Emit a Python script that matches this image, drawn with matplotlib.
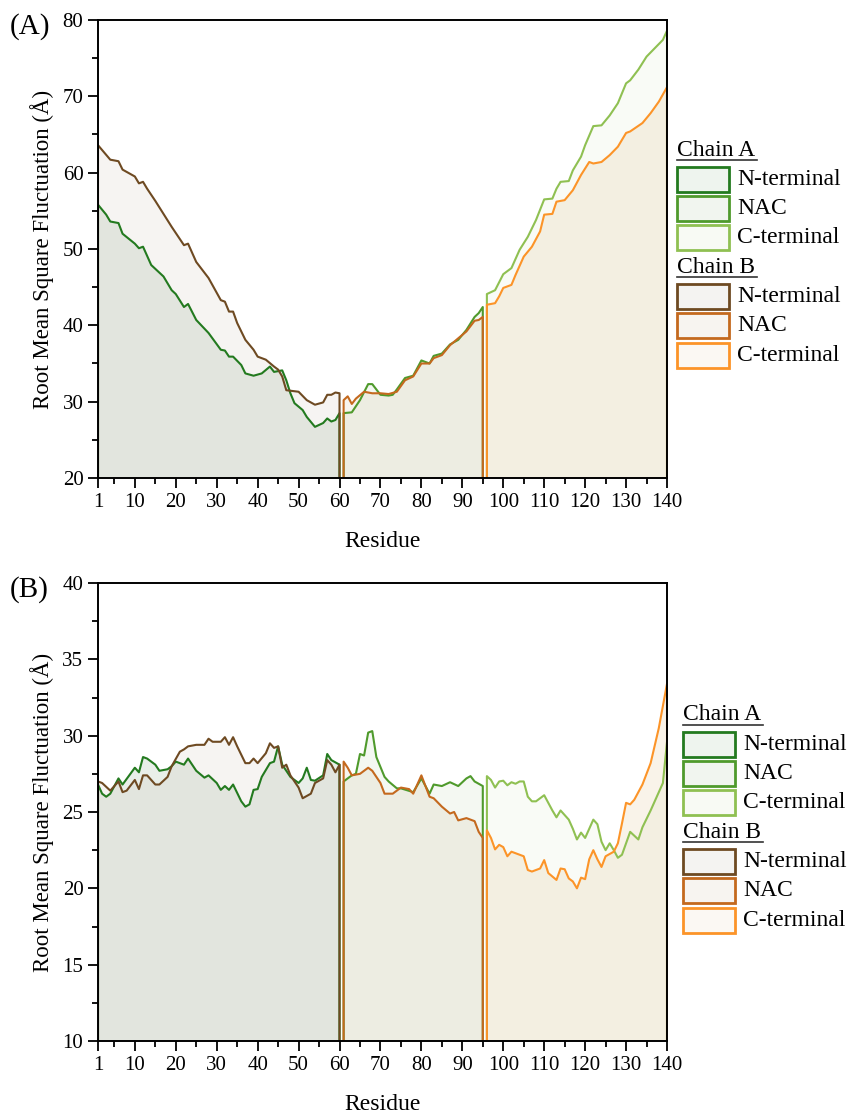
import matplotlib
matplotlib.use("Agg")
import matplotlib.pyplot as plt
from matplotlib.patches import Rectangle
from matplotlib.lines import Line2D
from matplotlib.ticker import MultipleLocator, FixedLocator

plt.rcParams['font.family'] = ['Liberation Serif', 'DejaVu Serif']

# ---- (A) RMSF per residue ----
a_chainA_res = [1, 3, 4, 6, 7, 10, 11, 12, 14, 17, 19, 20, 22, 23, 25, 28, 31, 32, 33, 34, 36, 37, 39, 41, 43, 44, 46,
                47, 48, 49, 51, 52, 54, 56, 57, 58, 59, 60,
                61, 63, 65, 67, 68, 70, 72, 73, 74, 76, 78, 80, 82, 83, 85, 87, 89, 91, 93, 94, 95,
                96, 98, 100, 102, 104, 106, 108, 110, 112, 113, 114, 116, 117, 119, 120, 122, 124, 126, 128, 130,
                131, 133, 135, 137, 139, 140]
a_chainA_val = [55.8, 54.5, 53.6, 53.4, 52.0, 50.7, 50.1, 50.3, 47.9, 46.4, 44.6, 44.1, 42.4, 42.8, 40.7, 39.0, 36.8,
                36.7, 35.9, 35.9, 34.8, 33.7, 33.4, 33.7, 34.6, 33.9, 34.1, 32.8, 31.1, 29.8, 28.9, 28.0, 26.7, 27.2,
                27.8, 27.4, 27.6, 28.5,
                28.5, 28.6, 30.2, 32.3, 32.3, 30.9, 30.8, 30.9, 31.6, 33.1, 33.4, 35.4, 35.0, 36.0, 36.3, 37.5, 38.1,
                39.4, 41.1, 41.6, 42.4,
                44.1, 44.6, 46.7, 47.5, 49.9, 51.6, 53.8, 56.5, 56.6, 57.9, 58.8, 58.9, 60.3, 62.1, 63.6, 66.1, 66.2,
                67.5, 69.1, 71.7, 72.1, 73.5, 75.2, 76.3, 77.4, 78.6]

a_chainB_res = [1, 4, 6, 7, 10, 11, 12, 13, 15, 17, 19, 20, 22, 23, 25, 28, 31, 32, 33, 34, 35, 37, 39, 40, 42, 44, 45,
                46, 47, 50, 52, 54, 56, 57, 58, 59, 60,
                61, 62, 63, 64, 66, 68, 70, 72, 74, 76, 78, 80, 82, 83, 85, 87, 89, 91, 93, 94, 95,
                96, 98, 99, 100, 102, 103, 105, 107, 109, 110, 112, 113, 115, 117, 119, 121, 122, 124, 126, 128, 130,
                131, 134, 136, 138, 140]
a_chainB_val = [63.6, 61.7, 61.5, 60.4, 59.5, 58.6, 58.8, 57.9, 56.3, 54.6, 52.9, 52.1, 50.5, 50.7, 48.3, 46.2, 43.3,
                43.1, 41.8, 41.8, 40.3, 38.1, 36.8, 35.9, 35.5, 34.6, 34.2, 33.3, 31.5, 31.3, 30.2, 29.6, 29.9, 30.9,
                30.9, 31.2, 31.1,
                30.2, 30.7, 29.7, 30.4, 31.3, 31.1, 31.1, 31.0, 31.3, 32.8, 33.3, 35.0, 35.0, 35.7, 36.1, 37.4, 38.3,
                39.2, 40.6, 40.7, 41.1,
                42.7, 42.9, 43.8, 44.9, 45.3, 46.6, 49.0, 50.3, 52.3, 54.5, 54.6, 56.2, 56.4, 57.7, 59.7, 61.4, 61.2,
                61.4, 62.3, 63.4, 65.2, 65.4, 66.5, 67.8, 69.3, 71.2]

# ---- (B) RMSF per residue ----
b_chainA_res = [1, 2, 3, 4, 6, 7, 10, 11, 12, 13, 15, 16, 18, 19, 20, 22, 23, 25, 27, 28, 30, 31, 32, 33, 34, 36, 37,
                38, 39, 40, 41, 43, 44, 45, 46, 48, 50, 51, 52, 53, 54, 56, 57, 58, 60,
                61, 63, 64, 65, 66, 67, 68, 69, 71, 72, 74, 75, 78, 80, 82, 83, 85, 87, 89, 91, 92, 93, 95,
                96, 97, 98, 99, 100, 101, 102, 103, 104, 105, 106, 107, 108, 110, 112, 113, 114, 116, 117, 118, 119,
                120, 122, 123, 124, 125, 126, 127, 128, 129, 131, 133, 134, 136, 139, 140]
b_chainA_val = [26.8, 26.2, 26.0, 26.2, 27.2, 26.8, 27.9, 27.6, 28.6, 28.5, 28.1, 27.7, 27.8, 28.0, 28.3, 28.1, 28.5,
                27.7, 27.25, 27.4, 26.9, 26.45, 26.7, 26.45, 26.8, 25.7, 25.35, 25.5, 26.45, 26.5, 27.3, 28.2, 28.3,
                29.3, 28.1, 27.3, 26.9, 27.2, 27.9, 27.1, 27.05, 27.4, 28.8, 28.4, 28.1,
                27.0, 27.4, 27.5, 28.8, 28.7, 30.2, 30.3, 28.6, 27.3, 27.0, 26.55, 26.55, 26.3, 27.2, 26.2, 26.8, 26.7,
                26.95, 26.7, 27.2, 27.35, 27.0, 26.7,
                27.35, 27.1, 26.6, 27.0, 27.05, 26.75, 26.95, 26.85, 27.0, 27.0, 26.0, 25.7, 25.7, 26.1, 25.1, 24.65,
                25.1, 24.5, 23.9, 23.2, 23.65, 23.3, 24.5, 24.2, 23.05, 22.5, 22.95, 22.5, 22.0, 22.2, 23.7, 23.2,
                24.0, 25.1, 26.9, 29.6]

b_chainB_res = [1, 2, 4, 6, 7, 8, 10, 11, 12, 13, 15, 16, 18, 19, 21, 22, 23, 25, 27, 28, 29, 31, 32, 33, 34, 35, 37,
                38, 39, 40, 42, 43, 44, 45, 46, 47, 48, 50, 51, 53, 54, 56, 57, 58, 59, 60,
                61, 62, 63, 65, 67, 68, 70, 71, 73, 75, 77, 78, 80, 82, 83, 85, 87, 88, 89, 91, 93, 94, 95,
                96, 97, 98, 99, 100, 101, 102, 104, 105, 106, 107, 109, 110, 111, 113, 114, 115, 116, 117, 118, 119,
                120, 121, 122, 123, 124, 125, 127, 128, 129, 130, 131, 132, 134, 136, 138, 140]
b_chainB_val = [27.0, 26.9, 26.4, 27.0, 26.3, 26.4, 27.1, 26.5, 27.4, 27.4, 26.8, 26.8, 27.3, 28.0, 28.95, 29.1, 29.3,
                29.4, 29.4, 29.8, 29.6, 29.6, 29.9, 29.4, 29.9, 29.3, 28.2, 28.2, 28.5, 28.2, 28.85, 29.5, 29.2, 29.3,
                27.9, 28.1, 27.4, 26.6, 25.9, 26.2, 26.9, 27.2, 28.4, 28.1, 27.6, 28.1,
                28.3, 27.9, 27.4, 27.5, 27.9, 27.7, 26.9, 26.2, 26.2, 26.6, 26.5, 26.2, 27.4, 26.0, 25.9, 25.35, 24.9,
                25.0, 24.45, 24.6, 24.4, 23.7, 23.3,
                23.8, 23.3, 22.55, 22.85, 22.7, 22.1, 22.4, 22.2, 22.1, 21.2, 21.1, 21.3, 21.85, 21.0, 20.55, 21.3,
                21.25, 20.65, 20.45, 20.0, 20.7, 20.6, 21.9, 22.5, 21.9, 21.4, 22.1, 22.4, 22.95, 24.25, 25.6, 25.5,
                25.8, 26.8, 28.2, 30.5, 33.4]

# domain boundaries (first, last residue)
domains = [('N-terminal', 1, 60), ('NAC', 61, 95), ('C-terminal', 96, 140)]

line_colors = {
    'A': ['#237a1f', '#4f9a2c', '#8fc052'],
    'B': ['#6e4a22', '#c4691e', '#fc9428'],
}
fill_colors = {
    'A': [(0.18, 0.40, 0.16, 0.10), (0.31, 0.59, 0.17, 0.06), (0.56, 0.75, 0.32, 0.05)],
    'B': [(0.42, 0.27, 0.13, 0.055), (0.63, 0.47, 0.16, 0.08), (0.78, 0.55, 0.16, 0.10)],
}
legend_fill = {
    'A': ['#eef4ee', '#f1f5ef', '#f8faf4'],
    'B': ['#f4f3f1', '#f7f4f0', '#fbf8f3'],
}


def draw_panel(ax, ymin, ymax, series):
    for chain, res, val in series:
        for k, (name, lo, hi) in enumerate(domains):
            xs = [r for r in res if lo <= r <= hi]
            ys = [v for r, v in zip(res, val) if lo <= r <= hi]
            xs = [xs[0]] + xs + [xs[-1]]
            ys = [ymin] + ys + [ymin]
            ax.fill(xs, ys, facecolor=fill_colors[chain][k], edgecolor='none', zorder=1)
            ax.plot(xs, ys, color=line_colors[chain][k], lw=1.5, zorder=2)
    ax.set_xlim(1, 140)
    ax.set_ylim(ymin, ymax)
    ax.xaxis.set_major_locator(FixedLocator([1] + list(range(10, 141, 10))))
    ax.xaxis.set_minor_locator(FixedLocator(list(range(5, 140, 10))))
    ax.tick_params(which='major', direction='out', length=7, width=1.3, labelsize=15)
    ax.tick_params(which='minor', direction='out', length=4, width=1.3)
    for s in ax.spines.values():
        s.set_linewidth(1.4)
    ax.set_xlabel('Residue', fontsize=17, labelpad=14)
    ax.set_ylabel('Root Mean Square Fluctuation (\u00c5)', fontsize=16.5, labelpad=6)


def draw_legend(fig, x0, y_title_a, step, W=848, H=1113):
    # x0, y in pixels from top-left
    y = y_title_a
    for chain in ['A', 'B']:
        t = fig.text(x0 / W, 1 - y / H, 'Chain ' + chain, fontsize=17, va='center', ha='left')
        fig.add_artist(Line2D([x0 / W, (x0 + 80) / W], [1 - (y + 10) / H] * 2, color='#333333', lw=1.2))
        for k, (name, lo, hi) in enumerate(domains):
            yc = y + step * (k + 1)
            fig.add_artist(Rectangle((x0 / W, 1 - (yc + 12.5) / H), 52 / W, 25 / H,
                                     facecolor=legend_fill[chain][k], edgecolor=line_colors[chain][k], lw=2,
                                     transform=fig.transFigure))
            fig.text((x0 + 60) / W, 1 - yc / H, name, fontsize=17, va='center', ha='left')
        y += step * 4


fig = plt.figure(figsize=(8.48, 11.13), dpi=100)
axA = fig.add_axes([98 / 848, 1 - 478 / 1113, 569 / 848, 458 / 1113])
axB = fig.add_axes([98 / 848, 1 - 1041 / 1113, 569 / 848, 458 / 1113])

draw_panel(axA, 20, 80, [('A', a_chainA_res, a_chainA_val), ('B', a_chainB_res, a_chainB_val)])
axA.yaxis.set_major_locator(MultipleLocator(10))
axA.yaxis.set_minor_locator(MultipleLocator(5))

draw_panel(axB, 10, 40, [('A', b_chainA_res, b_chainA_val), ('B', b_chainB_res, b_chainB_val)])
axB.yaxis.set_major_locator(MultipleLocator(5))
axB.yaxis.set_minor_locator(MultipleLocator(2.5))

fig.text(10 / 848, 1 - 27 / 1113, '(A)', fontsize=21, va='center', ha='left')
fig.text(10 / 848, 1 - 590 / 1113, '(B)', fontsize=21, va='center', ha='left')

draw_legend(fig, 677, 150, 29.3)
draw_legend(fig, 683, 715, 29.3)

fig.savefig('out.png', dpi=100)
